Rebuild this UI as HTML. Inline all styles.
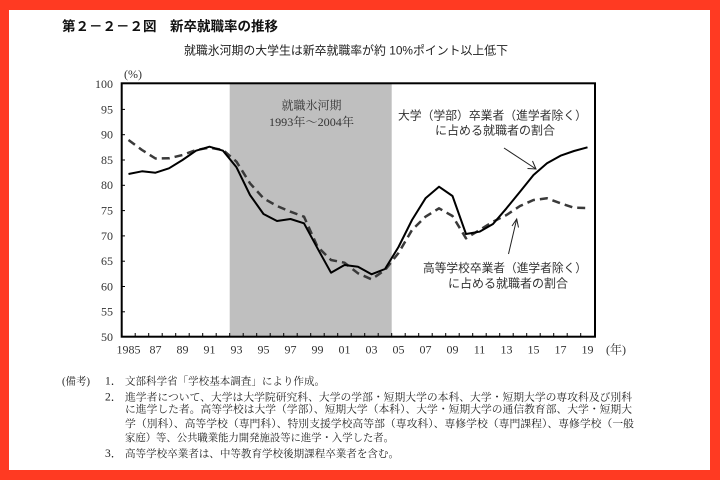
<!DOCTYPE html>
<html>
<head>
<meta charset="utf-8">
<style>
html,body{margin:0;padding:0;background:#ff3a22;}
svg{display:block;}
</style>
</head>
<body>
<svg width="720" height="480" viewBox="0 0 720 480" xmlns="http://www.w3.org/2000/svg">
  <rect x="0" y="0" width="720" height="480" fill="#ff3a22"/>
  <rect x="9" y="10" width="701" height="460" fill="#ffffff"/>

  <!-- Title -->
  <text x="62" y="31" font-family="'Liberation Sans','Noto Sans CJK JP',sans-serif" font-weight="700" font-size="13.5" fill="#111" textLength="216" lengthAdjust="spacingAndGlyphs">第２－２－２図　新卒就職率の推移</text>
  <text x="184" y="54.5" font-family="'Liberation Sans','Noto Sans CJK JP',sans-serif" font-size="12" fill="#222" textLength="324" lengthAdjust="spacingAndGlyphs">就職氷河期の大学生は新卒就職率が約 10%ポイント以上低下</text>

  <!-- shaded period -->
  <rect x="229.7" y="83.3" width="162" height="253.4" fill="#bfbfbf"/>
  <text x="311.5" y="109.5" text-anchor="middle" font-family="'Liberation Serif','Noto Serif CJK SC',serif" font-size="12" fill="#333">就職氷河期</text>
  <text x="311.5" y="126" text-anchor="middle" font-family="'Liberation Serif','Noto Serif CJK SC',serif" font-size="12" fill="#333" textLength="85" lengthAdjust="spacingAndGlyphs">1993年～2004年</text>

  <!-- frame -->
  <rect x="121.7" y="83.3" width="473.3" height="253.4" fill="none" stroke="#000" stroke-width="2"/>

  <!-- y ticks -->
  <g stroke="#000" stroke-width="1">
    <line x1="121.7" y1="109.4" x2="125" y2="109.4"/>
    <line x1="121.7" y1="134.7" x2="125" y2="134.7"/>
    <line x1="121.7" y1="160" x2="125" y2="160"/>
    <line x1="121.7" y1="185.3" x2="125" y2="185.3"/>
    <line x1="121.7" y1="210.6" x2="125" y2="210.6"/>
    <line x1="121.7" y1="235.9" x2="125" y2="235.9"/>
    <line x1="121.7" y1="261.2" x2="125" y2="261.2"/>
    <line x1="121.7" y1="286.5" x2="125" y2="286.5"/>
    <line x1="121.7" y1="311.8" x2="125" y2="311.8"/>
  </g>
  <!-- x ticks -->
  <g stroke="#000" stroke-width="1">
    <line x1="135.2" y1="336.7" x2="135.2" y2="333"/>
    <line x1="148.7" y1="336.7" x2="148.7" y2="333"/>
    <line x1="162.2" y1="336.7" x2="162.2" y2="333"/>
    <line x1="175.7" y1="336.7" x2="175.7" y2="333"/>
    <line x1="189.2" y1="336.7" x2="189.2" y2="333"/>
    <line x1="202.7" y1="336.7" x2="202.7" y2="333"/>
    <line x1="216.2" y1="336.7" x2="216.2" y2="333"/>
    <line x1="229.7" y1="336.7" x2="229.7" y2="333"/>
    <line x1="243.2" y1="336.7" x2="243.2" y2="333"/>
    <line x1="256.7" y1="336.7" x2="256.7" y2="333"/>
    <line x1="270.2" y1="336.7" x2="270.2" y2="333"/>
    <line x1="283.7" y1="336.7" x2="283.7" y2="333"/>
    <line x1="297.2" y1="336.7" x2="297.2" y2="333"/>
    <line x1="310.7" y1="336.7" x2="310.7" y2="333"/>
    <line x1="324.2" y1="336.7" x2="324.2" y2="333"/>
    <line x1="337.7" y1="336.7" x2="337.7" y2="333"/>
    <line x1="351.2" y1="336.7" x2="351.2" y2="333"/>
    <line x1="364.7" y1="336.7" x2="364.7" y2="333"/>
    <line x1="378.2" y1="336.7" x2="378.2" y2="333"/>
    <line x1="391.7" y1="336.7" x2="391.7" y2="333"/>
    <line x1="405.2" y1="336.7" x2="405.2" y2="333"/>
    <line x1="418.7" y1="336.7" x2="418.7" y2="333"/>
    <line x1="432.2" y1="336.7" x2="432.2" y2="333"/>
    <line x1="445.7" y1="336.7" x2="445.7" y2="333"/>
    <line x1="459.2" y1="336.7" x2="459.2" y2="333"/>
    <line x1="472.7" y1="336.7" x2="472.7" y2="333"/>
    <line x1="486.2" y1="336.7" x2="486.2" y2="333"/>
    <line x1="499.7" y1="336.7" x2="499.7" y2="333"/>
    <line x1="513.2" y1="336.7" x2="513.2" y2="333"/>
    <line x1="526.7" y1="336.7" x2="526.7" y2="333"/>
    <line x1="540.2" y1="336.7" x2="540.2" y2="333"/>
    <line x1="553.7" y1="336.7" x2="553.7" y2="333"/>
    <line x1="567.2" y1="336.7" x2="567.2" y2="333"/>
    <line x1="580.7" y1="336.7" x2="580.7" y2="333"/>
  </g>

  <!-- y labels -->
  <g font-family="'Liberation Serif',serif" font-size="12" fill="#333" text-anchor="end">
    <text x="113" y="88">100</text>
    <text x="113" y="113.3">95</text>
    <text x="113" y="138.6">90</text>
    <text x="113" y="163.9">85</text>
    <text x="113" y="189.2">80</text>
    <text x="113" y="214.5">75</text>
    <text x="113" y="239.8">70</text>
    <text x="113" y="265.1">65</text>
    <text x="113" y="290.4">60</text>
    <text x="113" y="315.7">55</text>
    <text x="113" y="341">50</text>
  </g>
  <text x="124" y="78" font-family="'Liberation Serif',serif" font-size="12" fill="#333">(%)</text>

  <!-- x labels -->
  <g font-family="'Liberation Serif',serif" font-size="12" fill="#333" text-anchor="middle">
    <text x="128.5" y="353.5">1985</text>
    <text x="155.5" y="353.5">87</text>
    <text x="182.5" y="353.5">89</text>
    <text x="209.5" y="353.5">91</text>
    <text x="236.5" y="353.5">93</text>
    <text x="263.5" y="353.5">95</text>
    <text x="290.5" y="353.5">97</text>
    <text x="317.5" y="353.5">99</text>
    <text x="344.5" y="353.5">01</text>
    <text x="371.5" y="353.5">03</text>
    <text x="398.5" y="353.5">05</text>
    <text x="425.5" y="353.5">07</text>
    <text x="452.5" y="353.5">09</text>
    <text x="479.5" y="353.5">11</text>
    <text x="506.5" y="353.5">13</text>
    <text x="533.5" y="353.5">15</text>
    <text x="560.5" y="353.5">17</text>
    <text x="587.5" y="353.5">19</text>
    <text x="616" y="353.5" font-family="'Liberation Serif','Noto Serif CJK SC',serif">(年)</text>
  </g>

  <!-- dashed series: high school -->
  <polyline fill="none" stroke="#3a3a3a" stroke-width="2.5" stroke-dasharray="8,5" stroke-linejoin="round"
    points="128.5,140 142,150 155.5,158.5 169,158.3 182.5,155 196,150 209.5,147.7 223,150 236.5,161.7 250,183.3 263.5,198.3 277,206 290.5,211.7 304,216.7 317.5,246.7 331,260 344.5,262.7 358,273.3 371.5,279.3 385,270 398.5,253 412,230 425.5,216.7 439,208.3 452.5,216 466,238.3 479.5,230 493,221.7 506.5,215 520,206 533.5,200 547,198.3 560.5,203.3 574,207.7 587.5,208"/>

  <!-- solid series: university -->
  <polyline fill="none" stroke="#000" stroke-width="2" stroke-linejoin="round"
    points="128.5,174 142,171.3 155.5,172.7 169,168.3 182.5,160 196,150.7 209.5,146.7 223,150.7 236.5,167.3 250,195 263.5,214 277,221 290.5,219 304,223.3 317.5,248.3 331,272.7 344.5,265 358,266.7 371.5,274.3 385,269 398.5,247 412,220 425.5,198.3 439,186.7 452.5,196 466,234 479.5,231.7 493,224 506.5,208.3 520,191.7 533.5,175 547,163.3 560.5,155.7 574,151 587.5,147.3"/>

  <!-- annotations -->
  <g font-family="'Liberation Sans','Noto Sans CJK JP',sans-serif" font-size="12" fill="#333" text-anchor="middle">
    <text x="492.5" y="119.5" textLength="189" lengthAdjust="spacingAndGlyphs">大学（学部）卒業者（進学者除く）</text>
    <text x="495" y="134.5">に占める就職者の割合</text>
    <text x="505" y="272" textLength="164" lengthAdjust="spacingAndGlyphs">高等学校卒業者（進学者除く）</text>
    <text x="508" y="287.5">に占める就職者の割合</text>
  </g>

  <!-- arrows -->
  <g stroke="#222" stroke-width="1" fill="none">
    <line x1="504" y1="148" x2="536" y2="169"/>
    <polyline points="527.5,168.5 536,169 532.5,161"/>
    <line x1="508.5" y1="254" x2="516.7" y2="219"/>
    <polyline points="512,226 516.7,219 518.5,227.5"/>
  </g>

  <!-- notes -->
  <g font-family="'Liberation Serif','Noto Serif CJK SC',serif" font-size="10.5" fill="#222">
    <text x="62" y="384.5">(備考)</text>
    <text x="105" y="384.5" font-size="11.5">1．</text>
    <text x="125" y="384.5" textLength="200" lengthAdjust="spacingAndGlyphs">文部科学省「学校基本調査」により作成。</text>
    <text x="105" y="400.5" font-size="11.5">2．</text>
    <text x="125" y="400.5" textLength="507" lengthAdjust="spacingAndGlyphs">進学者について、大学は大学院研究科、大学の学部・短期大学の本科、大学・短期大学の専攻科及び別科</text>
    <text x="125" y="412.5" textLength="507" lengthAdjust="spacingAndGlyphs">に進学した者。高等学校は大学（学部）、短期大学（本科）、大学・短期大学の通信教育部、大学・短期大</text>
    <text x="125" y="427" textLength="509" lengthAdjust="spacingAndGlyphs">学（別科）、高等学校（専門科）、特別支援学校高等部（専攻科）、専修学校（専門課程）、専修学校（一般</text>
    <text x="125" y="441" textLength="269" lengthAdjust="spacingAndGlyphs">家庭）等、公共職業能力開発施設等に進学・入学した者。</text>
    <text x="105" y="457" font-size="11.5">3．</text>
    <text x="125" y="457" textLength="274" lengthAdjust="spacingAndGlyphs">高等学校卒業者は、中等教育学校後期課程卒業者を含む。</text>
  </g>
</svg>
</body>
</html>
